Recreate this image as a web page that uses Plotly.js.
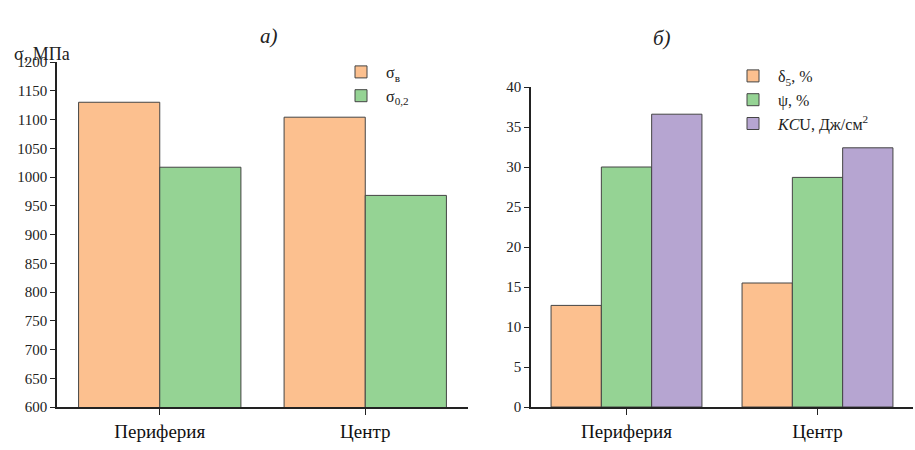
<!DOCTYPE html>
<html>
<head>
<meta charset="utf-8">
<script src="https://cdn.plot.ly/plotly-3.0.1.min.js"></script>
</head>
<body style="margin:0">
<div id="myDiv" style="width:915px;height:450px"></div>
<script>
// Categories and values
const places = ['Периферия', 'Центр'];
const sigmaB = [1130, 1104];
const sigma02 = [1017, 968];
const delta5 = [12.7, 15.5];
const psi = [30.0, 28.7];
const kcu = [36.6, 32.4];

const W = 915, H = 450;
const px = v => v / W;
const py = v => 1 - v / H;
const line = {color: '#444', width: 1};
const serif = '"Liberation Serif", "DejaVu Serif", serif';
const font = {family: serif, size: 15, color: '#222'};

function bar(y, name, color, xa, ya, legend) {
    return {type: 'bar', x: places, y: y, name: name, xaxis: xa, yaxis: ya,
        legend: legend, marker: {color: color, line: line}};
}

const data = [
    bar(sigmaB, 'σ<sub>в</sub>', '#fcc08f', 'x', 'y', 'legend'),
    bar(sigma02, 'σ<sub>0,2</sub>', '#95d394', 'x', 'y', 'legend'),
    bar(delta5, 'δ<sub>5</sub>, %', '#fcc08f', 'x2', 'y2', 'legend2'),
    bar(psi, 'ψ, %', '#95d394', 'x2', 'y2', 'legend2'),
    bar(kcu, '<i>KC</i>U, Дж/см<sup>2</sup>', '#b6a5d1', 'x2', 'y2', 'legend2')
];

const xbase = {range: [-0.5, 1.5], showline: true, linecolor: '#222', linewidth: 1.5,
    ticks: 'outside', ticklen: 6, tickcolor: '#222', tickfont: {family: serif, size: 19, color: '#111'},
    showgrid: false, fixedrange: true};
const ybase = {showline: true, linecolor: '#222', linewidth: 1.5, ticks: 'outside', ticklen: 5,
    tickcolor: '#222', tickfont: font, showgrid: false, zeroline: false};

const legendBase = {bgcolor: 'rgba(0,0,0,0)', font: {family: serif, size: 16, color: '#222'},
    xanchor: 'left', yanchor: 'top', tracegroupgap: 0, itemwidth: 40};

const layout = {
    width: W, height: H,
    margin: {l: 0, r: 0, t: 0, b: 0},
    paper_bgcolor: 'white', plot_bgcolor: 'white',
    barmode: 'group', bargap: 0.21, bargroupgap: 0,
    font: font,
    xaxis: Object.assign({}, xbase, {domain: [px(57), px(468)], anchor: 'y'}),
    yaxis: Object.assign({}, ybase, {domain: [py(407), py(62)], range: [600, 1200], dtick: 50, anchor: 'x'}),
    xaxis2: Object.assign({}, xbase, {domain: [px(531), px(913)], anchor: 'y2'}),
    yaxis2: Object.assign({}, ybase, {domain: [py(407), py(87)], range: [0, 40], dtick: 5, anchor: 'x2'}),
    legend: Object.assign({}, legendBase, {x: px(336), y: py(55)}),
    legend2: Object.assign({}, legendBase, {x: px(728), y: py(59)}),
    annotations: [
        {text: '<i>а)</i>', x: px(258), y: py(22), xref: 'paper', yref: 'paper', showarrow: false,
            font: {family: serif, size: 21, color: '#222'}},
        {text: '<i>б)</i>', x: px(673), y: py(24), xref: 'paper', yref: 'paper', showarrow: false,
            font: {family: serif, size: 21, color: '#222'}},
        {text: 'σ, МПа', x: px(12), y: py(42), xref: 'paper', yref: 'paper', xanchor: 'left', showarrow: false,
            font: {family: serif, size: 18, color: '#222'}}
    ],
    showlegend: true
};

Plotly.newPlot('myDiv', data, layout, {displayModeBar: false});
</script>
</body>
</html>
